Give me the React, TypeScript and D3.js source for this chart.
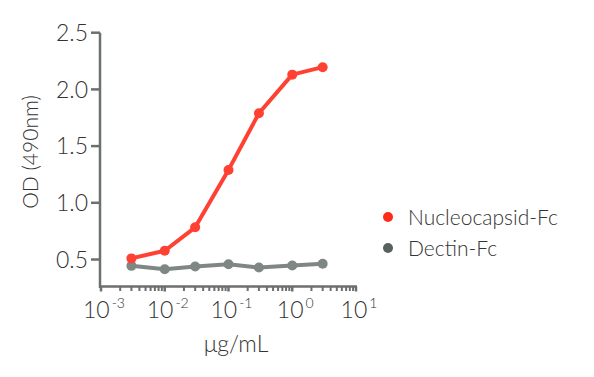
import React from "react";
import * as d3 from "d3";

const concentrations = [0.003, 0.01, 0.03, 0.1, 0.3, 1, 3];
const nucleocapsid = [0.51, 0.577, 0.784, 1.29, 1.79, 2.13, 2.196];
const dectin = [0.444, 0.414, 0.438, 0.458, 0.429, 0.447, 0.462];
const seriesNames = ["Nucleocapsid-Fc", "Dectin-Fc"];
const yTicks = [0.5, 1.0, 1.5, 2.0, 2.5];
const xExponents = [-3, -2, -1, 0, 1];

const W = 594;
const H = 377;
const FONT = "Lato, 'Open Sans', sans-serif";
const AXIS = "#6b6f6e";
const TEXT = "#333333";
const RED = "#ff4133";
const GRAY = "#7f8784";
const LEG_RED = "#ff2a17";
const LEG_GRAY = "#586060";

export default function App() {
  const x = d3.scaleLog().domain([1e-3, 10]).range([101, 356]);
  const y = d3.scaleLinear().domain([0.262, 2.5]).range([286.5, 32.7]);
  const axisY = 286.5;
  const axisX = 100;

  const line = d3
    .line<[number, number]>()
    .x((d) => x(d[0]))
    .y((d) => y(d[1]));

  const series = [
    { name: seriesNames[0], values: nucleocapsid, color: RED, leg: LEG_RED },
    { name: seriesNames[1], values: dectin, color: GRAY, leg: LEG_GRAY },
  ];

  const minor: number[] = [];
  for (let e = -3; e < 1; e++) {
    for (let k = 2; k <= 9; k++) minor.push(k * Math.pow(10, e));
  }

  return (
    <svg width={W} height={H} style={{ position: "absolute", left: 0, top: 0 }}>
      <rect width={W} height={H} fill="#fff" />
      {/* axes */}
      <line x1={axisX} x2={axisX} y1={y(2.5)} y2={axisY + 1.5} stroke={AXIS} strokeWidth={2.5} />
      <line x1={axisX - 1} x2={x(10) + 1} y1={axisY} y2={axisY} stroke={AXIS} strokeWidth={2.5} />
      {yTicks.map((t) => (
        <g key={t}>
          <line x1={axisX - 9} x2={axisX} y1={y(t)} y2={y(t)} stroke={AXIS} strokeWidth={2.5} />
          <text
            x={axisX - 12}
            y={y(t)}
            dy="0.36em"
            textAnchor="end"
            fontFamily={FONT}
            fontWeight={300}
            fontSize={23}
            fill={TEXT}
          >
            {t.toFixed(1)}
          </text>
        </g>
      ))}
      {minor.map((m, i) => (
        <line key={i} x1={x(m)} x2={x(m)} y1={axisY} y2={axisY + 4.5} stroke={AXIS} strokeWidth={2} />
      ))}
      {xExponents.map((e) => (
        <g key={e}>
          <line x1={x(Math.pow(10, e))} x2={x(Math.pow(10, e))} y1={axisY} y2={axisY + 5} stroke={AXIS} strokeWidth={2.5} />
          <text
            x={x(Math.pow(10, e)) + 3}
            y={318}
            textAnchor="middle"
            fontFamily={FONT}
            fontWeight={300}
            fontSize={23}
            fill={TEXT}
          >
            10
            <tspan fontSize={14} dy={-10} dx={2}>
              {e < 0 ? "-" + Math.abs(e) : String(e)}
            </tspan>
          </text>
        </g>
      ))}
      {/* axis titles */}
      <text
        x={236}
        y={352}
        textAnchor="middle"
        fontFamily={FONT}
        fontWeight={300}
        fontSize={23}
        fill={TEXT}
      >
        μg/mL
      </text>
      <text
        transform="translate(38,152) rotate(-90)"
        textAnchor="middle"
        fontFamily={FONT}
        fontWeight={300}
        fontSize={21}
        fill={TEXT}
      >
        OD (490nm)
      </text>
      {/* series */}
      {series
        .slice()
        .reverse()
        .map((s) => {
          const pts = concentrations.map((c, i) => [c, s.values[i]] as [number, number]);
          return (
            <g key={s.name}>
              <path d={line(pts) || ""} fill="none" stroke={s.color} strokeWidth={4} strokeLinejoin="round" />
              {pts.map((p, i) => (
                <circle key={i} cx={x(p[0])} cy={y(p[1])} r={5} fill={s.color} />
              ))}
            </g>
          );
        })}
      {/* legend */}
      {series.map((s, i) => (
        <g key={s.name} transform={`translate(388, ${217 + i * 31})`}>
          <circle cx={0} cy={0} r={5} fill={s.leg} />
          <text
            x={20}
            y={0}
            dy="0.36em"
            fontFamily={FONT}
            fontWeight={300}
            fontSize={21}
            fill={TEXT}
          >
            {s.name}
          </text>
        </g>
      ))}
    </svg>
  );
}
